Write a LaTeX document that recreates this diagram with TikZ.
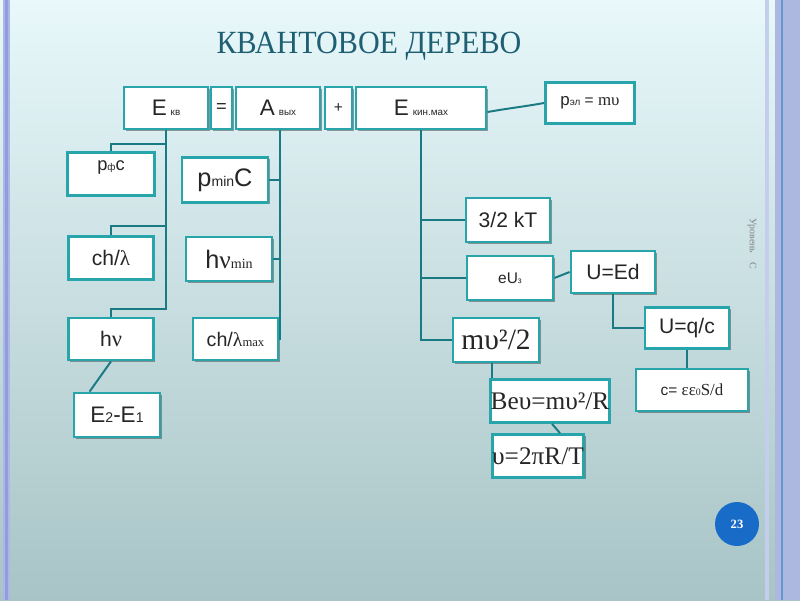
\documentclass[tikz,border=0pt]{standalone}
\usepackage{fontspec}
\setmainfont{Liberation Sans}
\newfontfamily\rmserif{Liberation Serif}
\usetikzlibrary{shadows, calc}
\newcommand\fsz[1]{\fontsize{#1}{#1}\selectfont}
\definecolor{tealbox}{RGB}{40,165,170}
\definecolor{tealline}{RGB}{26,122,132}
\definecolor{titleteal}{RGB}{30,95,115}
\definecolor{bgtop}{RGB}{232,248,251}
\definecolor{bgmid}{RGB}{212,236,240}
\definecolor{bgbot}{RGB}{168,196,198}
\definecolor{stripe}{RGB}{172,184,224}
\definecolor{stripelight}{RGB}{196,206,236}
\definecolor{stripeblue}{RGB}{100,148,210}
\definecolor{pageblue}{RGB}{24,108,200}

\begin{document}
\begin{tikzpicture}[
    x=0.025cm, y=-0.025cm,
    box/.style={
        draw=tealbox, line width=2pt, fill=white, inner sep=0pt, align=center,
        minimum height=1.05cm, text=black!85,
        drop shadow={shadow xshift=1.4pt, shadow yshift=-1.4pt, fill=black!75, opacity=0.5}
    },
    link/.style={draw=tealline, line width=1.4pt},
    title/.style={font=\rmserif\fsz{23}, text=titleteal},
    side/.style={font=\rmserif\fsz{7}, text=black!50, rotate=-90}
]

\useasboundingbox (0,0) rectangle (800,600);

\shade[top color=bgtop, middle color=bgmid, bottom color=bgbot] (0,0) rectangle (800,600);

\fill[stripe] (3,0) rectangle (10,600);
\fill[stripe!85!blue] (5,0) rectangle (8,600);
\fill[stripelight] (765,0) rectangle (769,600);
\fill[stripe] (775,0) rectangle (800,600);
\fill[stripeblue] (781,0) rectangle (783,600);

\node[title] (title) at (369,46) {\scalebox{0.93}[1]{КВАНТОВОЕ ДЕРЕВО}};

\node[box, minimum width=2.1cm] (ekv) at (166,108) {{\fsz{16}Е} {\fsz{7}кв}};

\node[box, minimum width=0.525cm] (eq) at (221.5,108) {\fsz{13}=};

\node[box, minimum width=2.1cm] (avyh) at (278,108) {{\fsz{16}А} {\fsz{7}вых}};

\node[box, minimum width=0.675cm] (plus) at (338.5,108) {\fsz{11}+};

\node[box, minimum width=3.25cm] (ekin) at (421,108) {{\fsz{16}Е} {\fsz{7}кин.мах}};

\node[box, minimum width=2.225cm, minimum height=1.025cm] (pel) at (590,103)
    {{\fsz{12}p}{\fsz{7}эл}{\fsz{11} = }{\rmserif\fsz{12}mυ}};

\node[box, minimum width=2.175cm, minimum height=1.075cm,
    label={[anchor=north, yshift=-3pt, text=black!85]north:{\fsz{13}p}{\fsz{7}ф}{\fsz{13}c}}] (pfc) at (111,174) {};

\node[box, minimum width=2.125cm, minimum height=1.075cm] (chl) at (111,258) {{\fsz{15}ch/}{\rmserif\fsz{15}λ}};

\node[box, minimum width=2.125cm] (hnu) at (111,339) {{\fsz{15}h}{\rmserif\fsz{16}ν}};

\node[box, minimum width=2.15cm, minimum height=1.1cm] (e21) at (117,415)
    {{\fsz{16}E}{\fsz{10}2}{\fsz{16}-E}{\fsz{10}1}};

\node[box, minimum width=2.15cm, minimum height=1.125cm] (pmin) at (225,180)
    {{\fsz{18}p}{\fsz{10}min}{\fsz{18}C}};

\node[box, minimum width=2.15cm, minimum height=1.1cm] (hnumin) at (229,259)
    {{\fsz{18}h}{\rmserif\fsz{18}ν}{\rmserif\fsz{10}min}};

\node[box, minimum width=2.125cm] (chlmax) at (235.5,339)
    {{\fsz{14}ch/}{\rmserif\fsz{14}λ}{\rmserif\fsz{9}max}};

\node[box, minimum width=2.1cm, minimum height=1.1cm] (kt) at (508,220) {\fsz{15}3/2 kT};

\node[box, minimum width=2.15cm, minimum height=1.1cm] (eu) at (510,278) {{\fsz{11}eU}{\fsz{6}з}};

\node[box, minimum width=2.15cm, minimum height=1.1cm] (mv) at (496,340) {\rmserif\fsz{21}mυ²/2};

\node[box, minimum width=2.1cm] (ued) at (613,272) {\fsz{15}U=Ed};

\node[box, minimum width=2.1cm, minimum height=1.025cm] (uqc) at (687,328) {\fsz{15}U=q/c};

\node[box, minimum width=2.8cm] (cap) at (692,390)
    {{\fsz{11}c= }{\rmserif\fsz{12}εε}{\rmserif\fsz{7}0}{\rmserif\fsz{12}S/d}};

\node[box, minimum width=2.8cm, minimum height=1.075cm] (bev) at (550,401) {\rmserif\fsz{18}Beυ=mυ²/R};

\node[box, minimum width=2.15cm, minimum height=1.075cm] (ups) at (538,456) {\rmserif\fsz{18}υ=2πR/T};

\node[side] (level) at (752,244) {Уровень\quad С};

\node[circle, fill=pageblue, minimum size=1.1cm, inner sep=0pt, text=white,
    font=\rmserif\bfseries\fsz{9}] (page) at (737,524) {23};

\draw[link] (pfc.north) -- ++(0,-7) -| (ekv.south);

\draw[link] (chl.north) -- ++(0,-9) -| (ekv.south);

\draw[link] (hnu.north) -- ++(0,-8) -| (ekv.south);

\draw[link] (hnu.south) -- ($(e21.north west)+(17,0)$);

\draw[link] (pmin.east) -| ($(avyh.south)+(2,0)$);

\draw[link] (hnumin.east) -| ($(avyh.south)+(2,0)$);

\draw[link] (chlmax.east) -| ($(avyh.south)+(2,0)$);

\draw[link] (kt.west) -| (ekin.south);

\draw[link] (eu.west) -| (ekin.south);

\draw[link] (mv.west) -| (ekin.south);

\draw[link] ($(ekin.east)+(0,4)$) to[out=10, in=190] (pel.west);

\draw[link] (eu.east) -- (ued.west);

\draw[link] (ued.south) |- (uqc.west);

\draw[link] (uqc.south) -- (uqc.south |- cap.north);

\draw[link] ($(bev.north west)+(3,0)$) -- ($(bev.north west |- mv.south)+(3,0)$);

\draw[link] ($(bev.south)+(2,0)$) -- ($(ups.north)+(22,0)$);

\end{tikzpicture}
\end{document}
